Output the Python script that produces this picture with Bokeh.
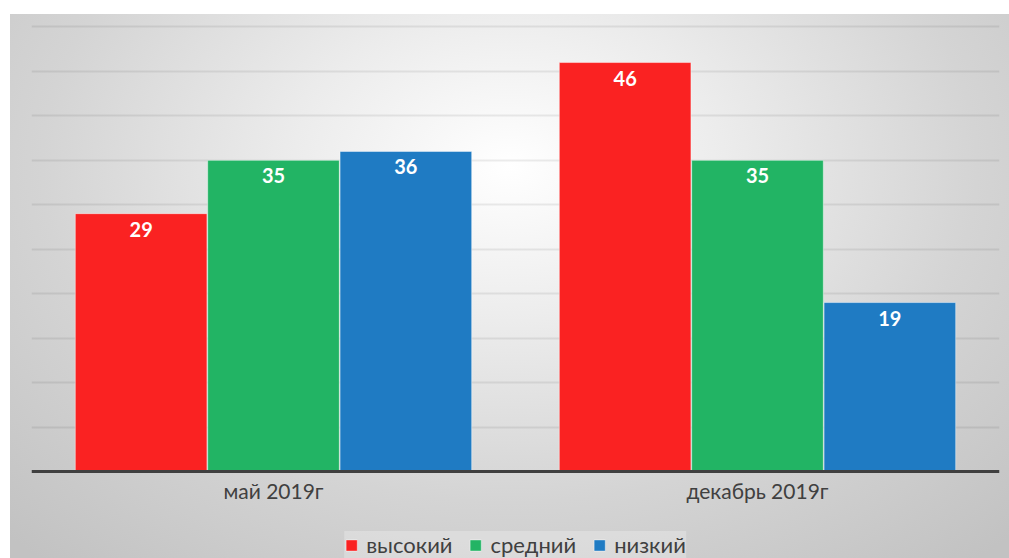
from bokeh.plotting import figure
from bokeh.models import ColumnDataSource, Legend, LegendItem, FixedTicker
from bokeh.transform import dodge
from bokeh.core.properties import value
from bokeh.embed import file_html
from bokeh.resources import INLINE

categories = ["май 2019г", "декабрь 2019г"]
series_names = ["высокий", "средний", "низкий"]
high = [29, 46]
mid = [35, 35]
low = [36, 19]
colors = ["#FA2222", "#22B464", "#1F7BC3"]

src = ColumnDataSource(data=dict(cat=categories, high=high, mid=mid, low=low))

p = figure(x_range=categories, y_range=(-9.79, 50.73), width=1009, height=558,
           output_backend="svg", toolbar_location=None,
           min_border_left=31, min_border_right=10, min_border_top=20, min_border_bottom=0)
p.styles = {
    "background-image": "radial-gradient(ellipse 72% 95% at 50% 28%, #ffffff 0%, #ececec 30%, #d4d4d4 65%, #c2c2c2 100%)",
    "background-repeat": "no-repeat",
    "background-position": "10px 14px",
    "background-size": "calc(100% - 10px) calc(100% - 14px)",
}
p.background_fill_alpha = 0
p.border_fill_alpha = 0
p.outline_line_color = None
p.x_range.range_padding = 0

p.ygrid.ticker = FixedTicker(ticks=[5, 10, 15, 20, 25, 30, 35, 40, 45, 50])
p.ygrid.grid_line_color = "#000000"
p.ygrid.grid_line_alpha = 0.075
p.ygrid.grid_line_width = 2
p.xgrid.grid_line_color = None
p.yaxis.visible = False

p.xaxis.fixed_location = 0
p.xaxis.axis_line_color = "#404040"
p.xaxis.axis_line_width = 3
p.xaxis.major_tick_line_color = None
p.xaxis.minor_tick_line_color = None
p.xaxis.major_label_text_font = "Lato"
p.xaxis.major_label_text_font_size = "21px"
p.xaxis.major_label_text_color = "#404040"
p.xaxis.major_label_standoff = 1

offsets = [-0.2735, 0.0, 0.2735]
fields = ["high", "mid", "low"]
items = []
for name, field, off, col in zip(series_names, fields, offsets, colors):
    r = p.vbar(x=dodge("cat", off, range=p.x_range), top=field, width=0.272, source=src,
               fill_color=col, line_color="#ffffff", line_alpha=0.45, line_width=1)
    items.append(LegendItem(label=name, renderers=[r]))
    p.text(x=dodge("cat", off, range=p.x_range), y=field, text=field, source=src,
           text_align="center", text_baseline="top", y_offset=8,
           text_color="#ffffff", text_font=value("Lato"), text_font_style="bold",
           text_font_size="20px")

legend = Legend(items=items, orientation="horizontal", location="bottom_center")
legend.label_text_font = "Lato"
legend.label_text_font_size = "22px"
legend.label_text_color = "#404040"
legend.glyph_width = 14
legend.glyph_height = 14
legend.label_standoff = 8
legend.spacing = 16
legend.padding = 3
legend.margin = 0
legend.background_fill_color = "#ffffff"
legend.background_fill_alpha = 0.25
legend.border_line_color = None
p.add_layout(legend, "center")

open("out.html", "w").write(file_html(p, INLINE))
